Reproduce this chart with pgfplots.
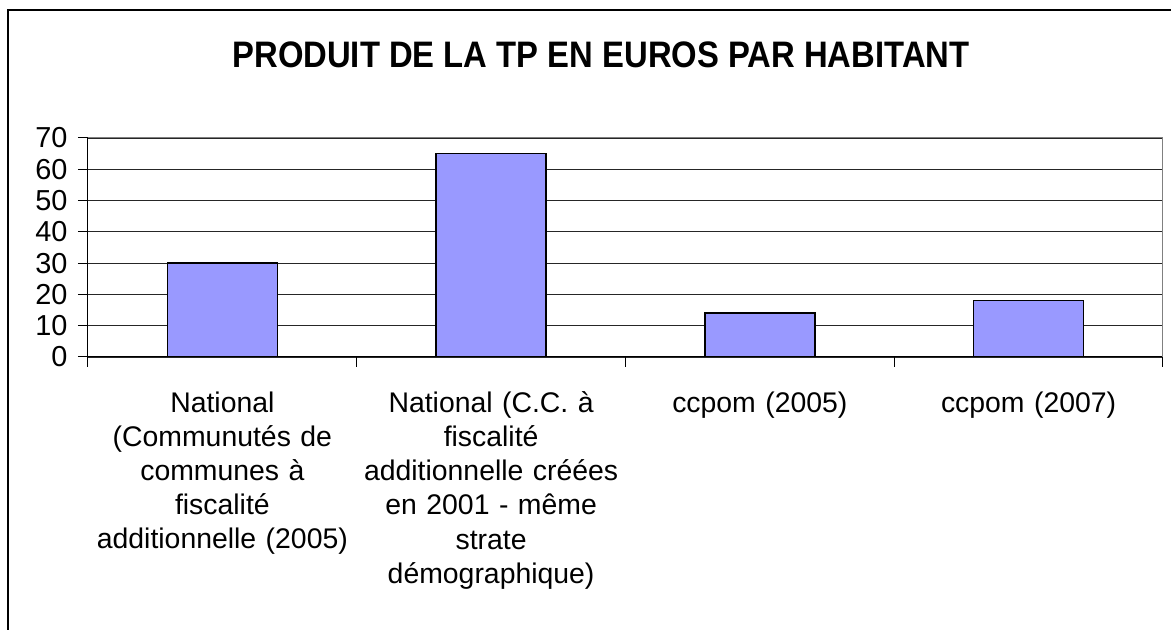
\documentclass[border=0pt]{standalone}
\usepackage{fontspec}
\setmainfont{Liberation Sans}
\usepackage{pgfplots}
\pgfplotsset{compat=1.18}
\definecolor{barblue}{HTML}{9999FF}

\begin{document}
\begin{tikzpicture}[x=1bp,y=1bp]
\begin{axis}[
    scale only axis,
    width=1075bp,
    height=219bp,
    axis x line*=bottom,
    axis y line*=left,
    axis line style={line width=1bp},
    xmin=0.5, xmax=4.5,
    ymin=0, ymax=70,
    ytick={0,10,...,70},
    ymajorgrids,
    grid style={black!85,line width=0.9bp},
    xtick={0.5,1.5,2.5,3.5,4.5},
    xticklabels={},
    tick align=outside,
    major tick length=10bp,
    tick style={black,line width=1bp},
    /pgf/number format/assume math mode=true,
    y tick label style={font=\fontsize{29}{32}\selectfont, xshift=-7bp},
    extra x ticks={1,2,3,4},
    extra x tick labels={
        {National\\(Communutés de\\communes à\\fiscalité\\additionnelle (2005)},
        {National (C.C. à\\fiscalité\\additionnelle créées\\en 2001 - même\\strate\\démographique)},
        {ccpom (2005)},
        {ccpom (2007)}},
    extra x tick style={major tick length=0pt,
        tick label style={font=\fontsize{28.5}{34.3}\selectfont,
            align=center, text width=268bp, anchor=north, yshift=-31bp}},
    ybar,
    bar width=110bp,
]
\addplot[fill=barblue, draw=black, line width=1.4bp]
coordinates {
    (1,30)
    (2,65)
    (3,14)
    (4,18)
};
\draw[gray,line width=1bp] (rel axis cs:0,1) -- (rel axis cs:1,1) -- (rel axis cs:1,0);
\coordinate (O) at (rel axis cs:0,0);
\end{axis}
\begin{scope}[shift={(O)}]
\useasboundingbox (-88,-273) rectangle (1083,357);
% outer chart frame (right and bottom edges are cut off)
\draw[line width=1.2bp] (-80,-280) -- (-80,347) -- (1090,347);
\node[font=\fontsize{37}{42}\selectfont\bfseries, xscale=0.89] at (513,302)
    {PRODUIT DE LA TP EN EUROS PAR HABITANT};
\end{scope}
\end{tikzpicture}
\end{document}
